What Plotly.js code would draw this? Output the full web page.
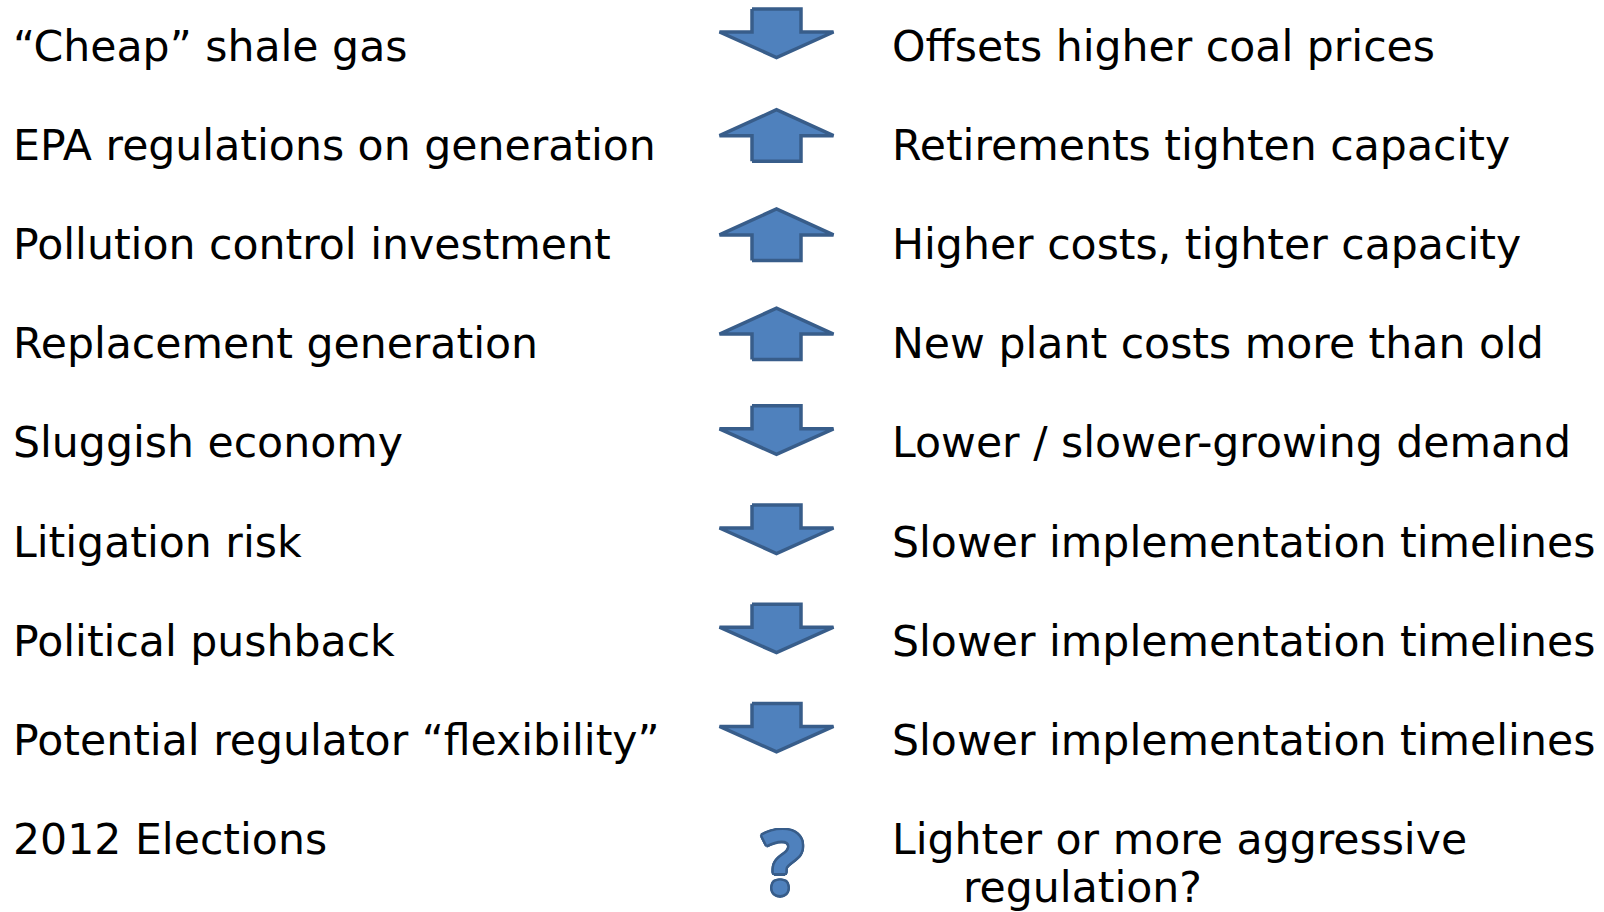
<!DOCTYPE html>
<html>
<head>
<meta charset="utf-8">
<script src="https://cdn.plot.ly/plotly-3.0.1.min.js"></script>
<style>
  html, body { margin: 0; padding: 0; background: #ffffff; }
  #chart { width: 1604px; height: 912px; }
</style>
</head>
<body>
<div id="chart"></div>
<script>
// ---- data ----
const factors = [
  "\u201cCheap\u201d shale gas",
  "EPA regulations on generation",
  "Pollution control investment",
  "Replacement generation",
  "Sluggish economy",
  "Litigation risk",
  "Political pushback",
  "Potential regulator \u201cflexibility\u201d",
  "2012 Elections"
];
const impacts = ["down", "up", "up", "up", "down", "down", "down", "down", "?"];
const effects = [
  "Offsets higher coal prices",
  "Retirements tighten capacity",
  "Higher costs, tighter capacity",
  "New plant costs more than old",
  "Lower / slower-growing demand",
  "Slower implementation timelines",
  "Slower implementation timelines",
  "Slower implementation timelines",
  "Lighter or more aggressive<br>regulation?"
];

// ---- layout constants (pixel-space axes) ----
const W = 1604, H = 912;
const rowY0 = 45.5, rowGap = 99.2;
const leftX = 11, rightX = 890, arrowX = 776.5;
const contIndent = 71, contGap = 48;
const fillBlue = "#4f81bd", edgeBlue = "#385d8a";
const FONT = "DejaVu Sans, Verdana, sans-serif";
const FS = 42.6;

function rowY(i) { return rowY0 + rowGap * i; }

function arrowPoly(dir, c) {
  const sh = 24.5, hh = 57;
  if (dir === "down") {
    const top = c - 36.5, base = c - 13.5, tip = c + 12;
    return {
      x: [arrowX - sh, arrowX + sh, arrowX + sh, arrowX + hh, arrowX, arrowX - hh, arrowX - sh, arrowX - sh],
      y: [top, top, base, base, tip, base, base, top]
    };
  } else {
    const tip = c - 35, base = c - 9, bot = c + 16.5;
    return {
      x: [arrowX - sh, arrowX + sh, arrowX + sh, arrowX + hh, arrowX, arrowX - hh, arrowX - sh, arrowX - sh],
      y: [bot, bot, base, base, tip, base, base, bot]
    };
  }
}

const traces = [];
const annotations = [];

factors.forEach((f, i) => {
  const c = rowY(i);
  annotations.push({
    x: leftX, y: c, xref: "x", yref: "y", text: f, showarrow: false,
    xanchor: "left", yanchor: "middle",
    font: { family: FONT, size: FS, color: "#000000" }
  });
  const lines = effects[i].split("<br>");
  lines.forEach((ln, k) => {
    annotations.push({
      x: rightX + (k > 0 ? contIndent : 0), y: c + k * contGap, xref: "x", yref: "y",
      text: ln, showarrow: false, xanchor: "left", yanchor: "middle",
      font: { family: FONT, size: FS, color: "#000000" }
    });
  });
  const d = impacts[i];
  if (d === "up" || d === "down") {
    const p = arrowPoly(d, c);
    traces.push({
      type: "scatter", mode: "lines", x: p.x, y: p.y,
      fill: "toself", fillcolor: fillBlue,
      line: { color: edgeBlue, width: 3.5 },
      hoverinfo: "skip", showlegend: false
    });
  } else {
    const sh = [];
    const r = 2.5;
    for (let a = 0; a < 16; a++) {
      const t = a * Math.PI / 8;
      sh.push((r * Math.cos(t)).toFixed(2) + "px " + (r * Math.sin(t)).toFixed(2) + "px 0 " + edgeBlue);
    }
    annotations.push({
      x: 783, y: c + 21, xref: "x", yref: "y", text: d, showarrow: false,
      xanchor: "center", yanchor: "middle",
      font: { family: "Open Sans, DejaVu Sans, sans-serif", size: 88, color: fillBlue, weight: 700, shadow: sh.join(", ") }
    });
  }
});

const layout = {
  width: W, height: H,
  margin: { l: 0, r: 0, t: 0, b: 0, pad: 0 },
  paper_bgcolor: "#ffffff", plot_bgcolor: "#ffffff",
  xaxis: { range: [0, W], visible: false, fixedrange: true },
  yaxis: { range: [H, 0], visible: false, fixedrange: true },
  showlegend: false,
  annotations: annotations
};

Plotly.newPlot("chart", traces, layout, { displayModeBar: false, staticPlot: true });
</script>
</body>
</html>
